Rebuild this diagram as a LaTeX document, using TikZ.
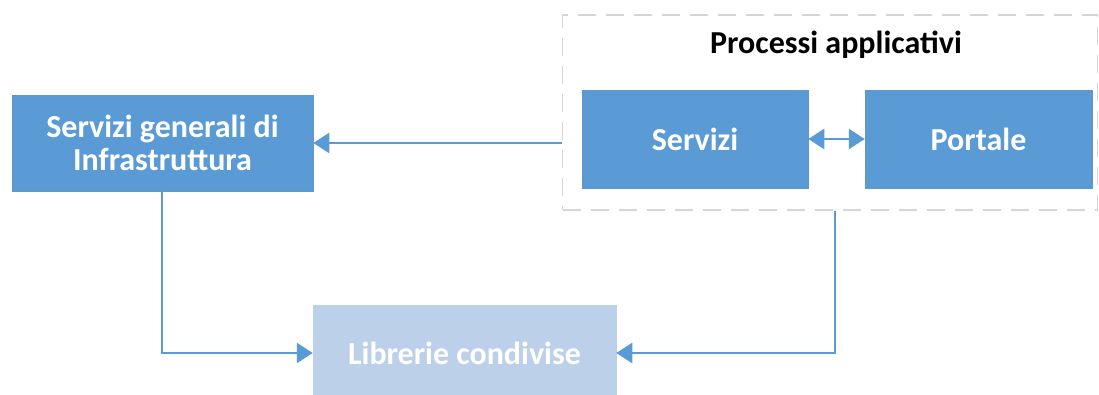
\documentclass[tikz,border=0pt]{standalone}
\usepackage{fontspec}
\setmainfont{Carlito}
\usetikzlibrary{arrows.meta}
\definecolor{mblue}{HTML}{5B9BD5}
\definecolor{lblue}{HTML}{BDD0E9}
\definecolor{dgrey}{HTML}{D4D6DA}
\begin{document}
\begin{tikzpicture}[x=1pt,y=-1pt,
  box/.style={fill=mblue,draw=mblue!85!gray,line width=0.5pt,text=white,font=\fontsize{32}{33}\selectfont\bfseries,align=center,inner sep=0pt},
  conn/.style={draw=mblue,line width=2.6pt,-{Triangle[length=16pt,width=20pt]}},
  dconn/.style={draw=mblue,line width=2.6pt,{Triangle[length=16pt,width=20pt]}-{Triangle[length=16pt,width=20pt]}}]
\useasboundingbox (0,0) rectangle (1099,395);
\node[draw=dgrey,dashed,dash pattern=on 18pt off 10pt,line width=1.2pt,minimum width=535pt,minimum height=195pt,inner sep=0pt] (grp) at (830,112.5) {};
\node[font=\fontsize{32}{33}\selectfont\bfseries] (title) at (836,45) {Processi applicativi};
\node[box,minimum width=301pt,minimum height=96pt] (inf) at (162.5,143) {Servizi generali di\\Infrastruttura};
\node[box,minimum width=226pt,minimum height=98pt] (srv) at (695,139) {Servizi};
\node[box,minimum width=227pt,minimum height=98pt] (prt) at (978.5,139) {Portale};
\node[box,fill=lblue,draw=lblue,minimum width=303pt,minimum height=96pt] (lib) at (464.5,353) {Librerie condivise};
\coordinate (gl) at (grp.west |- 0,143);
\draw[conn] (gl) -- (inf.east |- gl);
\draw[dconn] (srv.east) -- (prt.west);
\draw[conn] (inf.south -| 162,0) |- (lib.west);
\draw[conn] (grp.south -| 835,0) |- (lib.east);
\end{tikzpicture}
\end{document}
